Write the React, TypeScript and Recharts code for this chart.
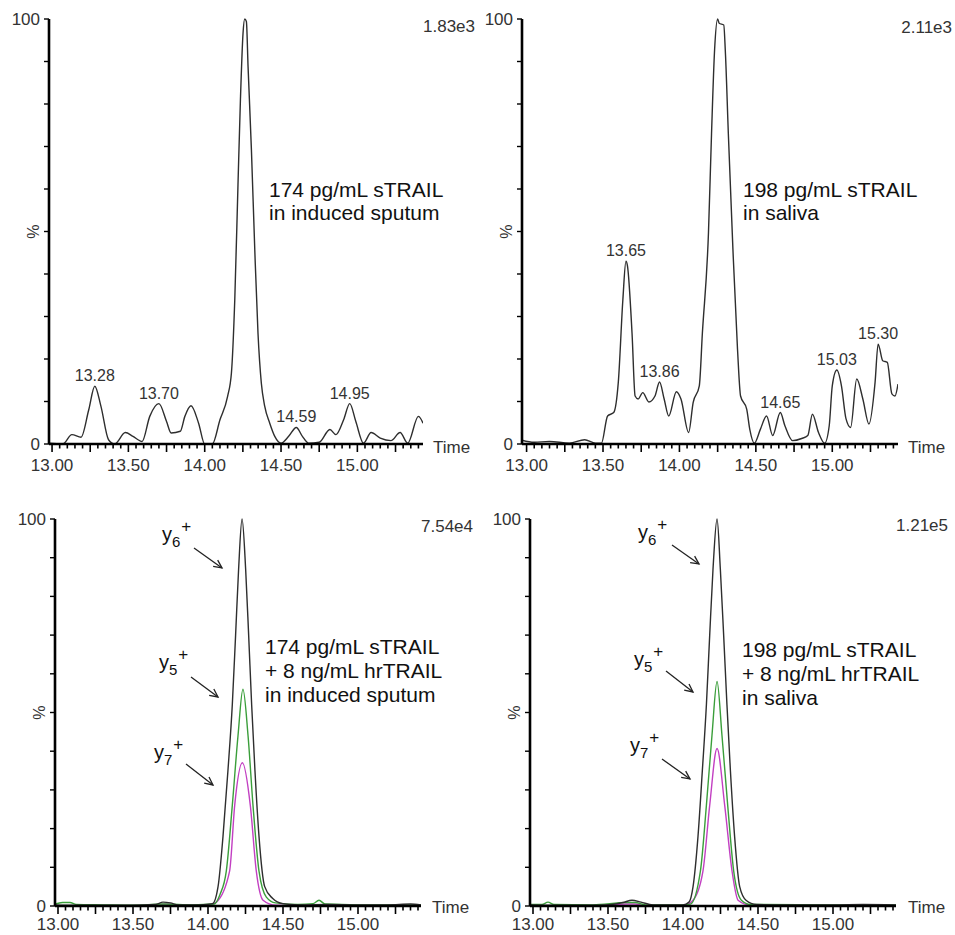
import { LineChart, Line, XAxis, YAxis, ReferenceDot } from "recharts";

// x ticks every 0.05 min, labels every 0.5
const timeTicks = [
  13.0, 13.05, 13.1, 13.15, 13.2, 13.25, 13.3, 13.35, 13.4, 13.45, 13.5, 13.55, 13.6, 13.65, 13.7, 13.75,
  13.8, 13.85, 13.9, 13.95, 14.0, 14.05, 14.1, 14.15, 14.2, 14.25, 14.3, 14.35, 14.4, 14.45, 14.5, 14.55,
  14.6, 14.65, 14.7, 14.75, 14.8, 14.85, 14.9, 14.95, 15.0, 15.05, 15.1, 15.15, 15.2, 15.25, 15.3, 15.35, 15.4,
];
const pctTicks = [0, 10, 20, 30, 40, 50, 60, 70, 80, 90, 100];

// top left: 174 pg/mL sTRAIL in induced sputum
const sputumTime = [
  12.98, 13.03, 13.07, 13.13, 13.19, 13.24, 13.28, 13.32, 13.37, 13.41, 13.48, 13.53, 13.59, 13.64, 13.7, 13.75,
  13.78, 13.84, 13.87, 13.91, 13.96, 14.0, 14.05, 14.1, 14.15, 14.175, 14.197, 14.218, 14.234, 14.251, 14.262,
  14.273, 14.284, 14.306, 14.328, 14.349, 14.371, 14.393, 14.426, 14.459, 14.5, 14.55, 14.6, 14.64, 14.68, 14.75,
  14.82, 14.86, 14.91, 14.95, 14.99, 15.04, 15.09, 15.15, 15.22, 15.28, 15.33, 15.4, 15.43,
];
const sputumSignal = [
  0.2, 0.1, 0, 2.2, 1.6, 8, 13.6, 8.9, 1, 0, 2.7, 1.8, 0.6, 6.5, 9.5, 5.3,
  2.6, 3, 6.5, 9, 4.9, 0, 0, 5.7, 11.2, 16.7, 34, 61, 81, 96.6, 100,
  99.4, 88.8, 69.2, 45.7, 26.1, 14.3, 8.9, 4.9, 1.8, 0.2, 1.8, 3.9, 1.8, 0.2, 0.4,
  3.4, 2.2, 5.7, 9.5, 5.3, 0.2, 2.7, 1.4, 0.8, 2.7, 0.2, 6.5, 4.9,
];
const sputumPeaks = [
  { t: 13.28, v: 13.6, label: "13.28" },
  { t: 13.7, v: 9.5, label: "13.70" },
  { t: 14.6, v: 3.9, label: "14.59" },
  { t: 14.95, v: 9.5, label: "14.95" },
];

// top right: 198 pg/mL sTRAIL in saliva
const salivaTime = [
  12.97, 13.05, 13.15, 13.28, 13.38, 13.45, 13.49, 13.53, 13.57, 13.6, 13.63, 13.65, 13.66, 13.69, 13.71, 13.73,
  13.76, 13.8, 13.84, 13.87, 13.9, 13.93, 13.98, 14.01, 14.06, 14.09, 14.13, 14.15, 14.19, 14.21, 14.23, 14.25,
  14.26, 14.29, 14.3, 14.32, 14.35, 14.38, 14.4, 14.44, 14.46, 14.49, 14.53, 14.57, 14.61, 14.66, 14.69, 14.74,
  14.8, 14.84, 14.87, 14.91, 14.95, 14.98, 15.0, 15.03, 15.06, 15.09, 15.12, 15.16, 15.2, 15.24, 15.28, 15.3,
  15.33, 15.36, 15.39, 15.41, 15.43,
];
const salivaSignal = [
  0.9, 0.4, 0.6, 0.2, 1, 0.2, 0.2, 6.6, 7.4, 14.5, 34, 43, 41.9, 26, 11.3, 10.6,
  12.1, 9.9, 11.3, 14.6, 10.6, 6.6, 12.3, 10.6, 2.7, 9.8, 13.7, 26, 49.7, 73, 92.7, 100,
  99, 98.6, 92.7, 73, 45.8, 22.3, 11.3, 8.2, 3.5, 0.2, 3.5, 6.6, 2, 7.4, 4.3, 0.8,
  1.3, 2, 7, 2.7, 0.2, 4.3, 13.7, 17.4, 13.7, 5.9, 3.9, 15.3, 10.6, 4.7, 14.5, 23.5,
  19.6, 19.2, 11.8, 11.3, 14.1,
];
const salivaPeaks = [
  { t: 13.65, v: 43, label: "13.65" },
  { t: 13.87, v: 14.6, label: "13.86" },
  { t: 14.66, v: 7.4, label: "14.65" },
  { t: 15.03, v: 17.4, label: "15.03" },
  { t: 15.3, v: 23.5, label: "15.30" },
];

// bottom left: + 8 ng/mL hrTRAIL in induced sputum
const spSpikeY6Time = [12.98, 13.1, 13.3, 13.5, 13.65, 13.7, 13.75, 13.8, 13.95, 14.03, 14.067, 14.1, 14.133, 14.162, 14.184, 14.204, 14.227, 14.251, 14.271, 14.291, 14.313, 14.34, 14.378, 14.43, 14.5, 14.6, 14.8, 15.0, 15.2, 15.35, 15.42];
const spSpikeY6 = [0.3, 0.2, 0.2, 0.2, 0.4, 1, 0.8, 0.3, 0.3, 0.6, 5, 18, 35, 52, 70, 87, 100, 87, 70, 52, 35, 18, 5, 2, 0.6, 0.3, 0.4, 0.3, 0.3, 0.5, 0.3];
const spSpikeY5Time = [12.98, 13.03, 13.08, 13.12, 13.3, 13.5, 13.7, 13.9, 14.04, 14.08, 14.122, 14.162, 14.2, 14.233, 14.267, 14.3, 14.34, 14.389, 14.45, 14.6, 14.7, 14.74, 14.78, 15.0, 15.42];
const spSpikeY5 = [0.5, 0.9, 0.9, 0.4, 0.3, 0.2, 0.5, 0.3, 0.5, 3, 9, 26, 44, 56, 44, 26, 9, 2.3, 0.8, 0.4, 0.6, 1.5, 0.5, 0.3, 0.3];
const spSpikeY7Time = [12.98, 13.3, 13.6, 13.72, 13.85, 14.0, 14.056, 14.144, 14.178, 14.229, 14.282, 14.322, 14.367, 14.45, 14.8, 15.2, 15.42];
const spSpikeY7 = [0.1, 0.1, 0.1, 0.5, 0.1, 0.1, 1, 9, 26, 37, 26, 9, 1.5, 0.2, 0.1, 0.1, 0.1];

// bottom right: + 8 ng/mL hrTRAIL in saliva
const saSpikeY6Time = [12.98, 13.2, 13.45, 13.6, 13.66, 13.72, 13.8, 14.0, 14.04, 14.067, 14.1, 14.129, 14.156, 14.178, 14.2, 14.227, 14.249, 14.271, 14.293, 14.316, 14.344, 14.378, 14.42, 14.49, 14.7, 15.0, 15.2, 15.42];
const saSpikeY6 = [0.3, 0.2, 0.2, 0.9, 1.5, 1, 0.3, 0.3, 1, 5, 18, 35, 52, 70, 87, 100, 87, 70, 52, 35, 18, 5, 1.5, 0.4, 0.3, 0.3, 0.4, 0.3];
const saSpikeY5Time = [12.98, 13.06, 13.1, 13.14, 13.4, 13.62, 13.68, 13.75, 14.0, 14.05, 14.116, 14.156, 14.193, 14.227, 14.26, 14.298, 14.338, 14.389, 14.45, 15.0, 15.42];
const saSpikeY5 = [0.4, 0.4, 1, 0.4, 0.3, 0.9, 0.9, 0.3, 0.3, 0.5, 9, 26, 44, 58, 44, 26, 9, 1.5, 0.4, 0.3, 0.3];
const saSpikeY7Time = [12.98, 13.4, 13.62, 13.68, 13.75, 14.0, 14.067, 14.133, 14.178, 14.227, 14.278, 14.327, 14.367, 14.45, 15.0, 15.42];
const saSpikeY7 = [0.1, 0.1, 0.5, 0.5, 0.1, 0.1, 1.5, 9, 26, 40.7, 26, 9, 1.5, 0.2, 0.1, 0.1];

const INK = "#2e2e2e";
const GREEN = "#3a9e3a";
const MAGENTA = "#c23fc2";
const FONT = "'Liberation Sans', Arial, sans-serif";

const pts = (ts: number[], vs: number[]) => ts.map((t, i) => ({ t, v: vs[i] }));

const makeTimeTick = (labelDy: number) => (props: any) => {
  const { x, y, payload } = props;
  const c = Math.round(payload.value * 100);
  const major = c % 25 === 0;
  return (
    <g>
      <line x1={x} x2={x} y1={y} y2={y + (major ? 8 : 4.5)} stroke="#000" strokeWidth={1.6} />
      {c % 50 === 0 && (
        <text x={x} y={y + labelDy} textAnchor="middle" fontSize={17} fill="#333" fontFamily={FONT}>
          {payload.value.toFixed(2)}
        </text>
      )}
    </g>
  );
};

const PctTick = (props: any) => {
  const { x, y, payload } = props;
  const v = payload.value;
  return (
    <g>
      <line x1={x - 5} x2={x} y1={y} y2={y} stroke="#000" strokeWidth={1.4} />
      {(v === 0 || v === 100) && (
        <text x={x - 9} y={y + 6} textAnchor="end" fontSize={17} fill="#333" fontFamily={FONT}>
          {v}
        </text>
      )}
      {v === 50 && (
        <text x={x - 16} y={y} textAnchor="middle" dominantBaseline="central" fontSize={16} fill="#333"
          fontFamily={FONT} transform={`rotate(-90 ${x - 16} ${y})`}>
          %
        </text>
      )}
    </g>
  );
};

interface Series { points: { t: number; v: number }[]; color: string }
interface Peak { t: number; v: number; label: string }

function Chromatogram(p: {
  left: number; top: number; width: number; height: number; plotTop: number; yAxisWidth: number;
  xAxisHeight: number; right: number; domain: [number, number]; series: Series[]; peaks?: Peak[]; labelDy: number;
}) {
  const axisStyle = { stroke: "#000", strokeWidth: 2.6 };
  const TimeTick = makeTimeTick(p.labelDy);
  return (
    <div style={{ position: "absolute", left: p.left, top: p.top }}>
      <LineChart width={p.width} height={p.height} margin={{ top: p.plotTop, right: p.right, bottom: 0, left: 0 }}>
        <XAxis type="number" dataKey="t" domain={p.domain} allowDataOverflow ticks={timeTicks} interval={0}
          height={p.xAxisHeight} tickLine={false} tickSize={0} tickMargin={0} axisLine={axisStyle}
          stroke="#000" strokeWidth={2.6} tick={(tp: any) => <TimeTick {...tp} />} />
        <YAxis type="number" domain={[0, 100]} ticks={pctTicks} interval={0} width={p.yAxisWidth}
          tickLine={false} tickSize={0} tickMargin={0} axisLine={axisStyle}
          stroke="#000" strokeWidth={2.6} tick={(tp: any) => <PctTick {...tp} />} />
        {p.series.map((s, i) => (
          <Line key={i} data={s.points} dataKey="v" type="monotone" stroke={s.color} strokeWidth={1.4}
            dot={false} activeDot={false} isAnimationActive={false} />
        ))}
        {(p.peaks || []).map((pk) => (
          <ReferenceDot key={pk.label} x={pk.t} y={pk.v} r={0} fill="none" stroke="none"
            label={{ value: pk.label, position: "top", offset: 5, fontSize: 16, fill: "#333", fontFamily: FONT }} />
        ))}
      </LineChart>
    </div>
  );
}

const Arrow = ({ x1, y1, x2, y2 }: { x1: number; y1: number; x2: number; y2: number }) => {
  const a = Math.atan2(y2 - y1, x2 - x1);
  const h = 9;
  const l = (s: number) => `${x2 - h * Math.cos(a + s)},${y2 - h * Math.sin(a + s)}`;
  return (
    <g stroke="#222" strokeWidth={1.3} fill="none">
      <line x1={x1} y1={y1} x2={x2} y2={y2} />
      <polyline points={`${l(0.45)} ${x2},${y2} ${l(-0.45)}`} />
    </g>
  );
};

const Ion = ({ x, y, n }: { x: number; y: number; n: string }) => (
  <text x={x} y={y} fontSize={20} fill="#111" fontFamily={FONT}>
    y<tspan fontSize={15} dy={6}>{n}</tspan>
    <tspan fontSize={17} dy={-15} dx={1}>+</tspan>
  </text>
);

export default function App() {
  const txt = { fontFamily: FONT, fill: "#111", fontSize: 21 };
  const small = { fontFamily: FONT, fill: "#333", fontSize: 17 };
  return (
    <div style={{ position: "absolute", left: 0, top: 0, width: 955, height: 935, background: "#fff", fontFamily: FONT }}>
      <Chromatogram left={0} top={0} width={480} height={480} plotTop={19} yAxisWidth={49} xAxisHeight={36}
        right={57} domain={[12.98, 15.43]} series={[{ points: pts(sputumTime, sputumSignal), color: INK }]}
        peaks={sputumPeaks} labelDy={27} />
      <Chromatogram left={475} top={0} width={480} height={480} plotTop={19} yAxisWidth={47} xAxisHeight={36}
        right={57} domain={[12.97, 15.43]} series={[{ points: pts(salivaTime, salivaSignal), color: INK }]}
        peaks={salivaPeaks} labelDy={27} />
      <Chromatogram left={0} top={470} width={480} height={465} plotTop={49} yAxisWidth={55} xAxisHeight={29}
        right={59} domain={[12.98, 15.42]} labelDy={24}
        series={[
          { points: pts(spSpikeY7Time, spSpikeY7), color: MAGENTA },
          { points: pts(spSpikeY5Time, spSpikeY5), color: GREEN },
          { points: pts(spSpikeY6Time, spSpikeY6), color: INK },
        ]} />
      <Chromatogram left={475} top={470} width={480} height={465} plotTop={49} yAxisWidth={55} xAxisHeight={29}
        right={59} domain={[12.98, 15.42]} labelDy={24}
        series={[
          { points: pts(saSpikeY7Time, saSpikeY7), color: MAGENTA },
          { points: pts(saSpikeY5Time, saSpikeY5), color: GREEN },
          { points: pts(saSpikeY6Time, saSpikeY6), color: INK },
        ]} />

      <svg width={955} height={935} style={{ position: "absolute", left: 0, top: 0, pointerEvents: "none" }}>
        <text x={475} y={32} textAnchor="end" {...small}>1.83e3</text>
        <text x={952} y={33} textAnchor="end" {...small}>2.11e3</text>
        <text x={473} y={532} textAnchor="end" {...small}>7.54e4</text>
        <text x={948} y={531} textAnchor="end" {...small}>1.21e5</text>

        <text x={433} y={453} {...small}>Time</text>
        <text x={908} y={453} {...small}>Time</text>
        <text x={432} y={913} {...small}>Time</text>
        <text x={908} y={913} {...small}>Time</text>

        <text x={269} y={197} {...txt}>174 pg/mL sTRAIL</text>
        <text x={269} y={220} {...txt}>in induced sputum</text>
        <text x={743} y={197} {...txt}>198 pg/mL sTRAIL</text>
        <text x={743} y={220} {...txt}>in saliva</text>

        <text x={265} y={654} {...txt}>174 pg/mL sTRAIL</text>
        <text x={265} y={678} {...txt}>+ 8 ng/mL hrTRAIL</text>
        <text x={265} y={702} {...txt}>in induced sputum</text>
        <text x={742} y={657} {...txt}>198 pg/mL sTRAIL</text>
        <text x={742} y={681} {...txt}>+ 8 ng/mL hrTRAIL</text>
        <text x={742} y={705} {...txt}>in saliva</text>

        <Ion x={162} y={541} n="6" />
        <Ion x={159} y={669} n="5" />
        <Ion x={154} y={759} n="7" />
        <Arrow x1={194} y1={548} x2={222} y2={568} />
        <Arrow x1={191} y1={677} x2={218} y2={697} />
        <Arrow x1={186} y1={764} x2={213} y2={785} />

        <Ion x={638} y={539} n="6" />
        <Ion x={634} y={666} n="5" />
        <Ion x={630} y={752} n="7" />
        <Arrow x1={672} y1={545} x2={699} y2={564} />
        <Arrow x1={666} y1={671} x2={693} y2={692} />
        <Arrow x1={662} y1={759} x2={690} y2={779} />
      </svg>
    </div>
  );
}
